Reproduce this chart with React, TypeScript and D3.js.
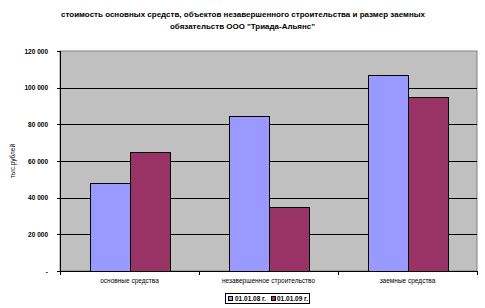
import React from "react";
import * as d3 from "d3";

const categories = ["основные средства", "незавершенное строительство", "заемные средства"];
const seriesNames = ["01.01.08 г.", "01.01.09 г."];
const values2008 = [48000, 84500, 107000];
const values2009 = [65000, 35000, 95000];
const yTicks = [0, 20000, 40000, 60000, 80000, 100000, 120000];
const titleLines = [
  "стоимость основных средств, объектов незавершенного строительства и размер заемных",
  "обязательств ООО \"Триада-Альянс\"",
];
const yAxisTitle = "тыс.рублей";
const colors = ["#9999FF", "#993366"];

const W = 485, H = 308;
const plot = { left: 60, right: 477, top: 51, bottom: 271 };
const FONT = "'Liberation Sans', Arial, sans-serif";

export default function App() {
  const x0 = d3.scaleBand<string>().domain(categories).range([plot.left, plot.right]).padding(0);
  const x1 = d3.scaleBand<string>().domain(seriesNames).range([0, x0.bandwidth()]).paddingInner(0).paddingOuter(0.75);
  const y = d3.scaleLinear().domain([0, 120000]).range([plot.bottom, plot.top]);
  const series = [values2008, values2009];
  const fmt = (v: number) => (v === 0 ? "-" : d3.format(",")(v).replace(/,/g, " "));
  const boundaries = [plot.left, ...categories.map((c) => (x0(c) as number) + x0.bandwidth())];

  return (
    <svg width={W} height={H} style={{ position: "absolute", left: 0, top: 0, background: "#fff" }}>
      <rect x={0} y={0} width={W} height={H} fill="#fff" />
      {/* title */}
      <text x={243} y={17} textAnchor="middle" fontFamily={FONT} fontSize={7} fontWeight="bold" textLength={364} lengthAdjust="spacingAndGlyphs">{titleLines[0]}</text>
      <text x={242.5} y={29} textAnchor="middle" fontFamily={FONT} fontSize={7} fontWeight="bold" textLength={145} lengthAdjust="spacingAndGlyphs">{titleLines[1]}</text>
      {/* plot area */}
      <rect x={plot.left} y={plot.top} width={plot.right - plot.left} height={plot.bottom - plot.top} fill="#C0C0C0" stroke="#808080" strokeWidth={1} />
      {/* gridlines */}
      {yTicks.filter((t) => t > 0 && t < 120000).map((t) => (
        <line key={t} x1={plot.left} x2={plot.right} y1={Math.round(y(t)) + 0.5} y2={Math.round(y(t)) + 0.5} stroke="#000" strokeWidth={1} />
      ))}
      {/* bars */}
      {categories.map((c, ci) =>
        seriesNames.map((s, si) => {
          const bx = (x0(c) as number) + (x1(s) as number);
          const by = y(series[si][ci]);
          return (
            <rect key={c + s} x={Math.round(bx) + 0.5} y={Math.round(by) + 0.5} width={Math.round(x1.bandwidth())} height={Math.round(plot.bottom - by)} fill={colors[si]} stroke="#000" strokeWidth={1} />
          );
        })
      )}
      {/* axes */}
      <line x1={plot.left + 0.5} x2={plot.left + 0.5} y1={plot.top} y2={plot.bottom} stroke="#000" />
      <line x1={plot.left} x2={plot.right} y1={plot.bottom + 0.5} y2={plot.bottom + 0.5} stroke="#000" />
      {yTicks.map((t) => (
        <g key={t}>
          <line x1={plot.left - 3} x2={plot.left} y1={Math.round(y(t)) + 0.5} y2={Math.round(y(t)) + 0.5} stroke="#000" />
          <text x={48} y={y(t) + 2.5} textAnchor="end" fontFamily={FONT} fontSize={6.5} fontWeight="bold">{fmt(t)}</text>
        </g>
      ))}
      {boundaries.map((b, i) => (
        <line key={i} x1={Math.round(b) + 0.5} x2={Math.round(b) + 0.5} y1={plot.bottom} y2={plot.bottom + 4} stroke="#000" />
      ))}
      {categories.map((c) => (
        <text key={c} x={(x0(c) as number) + x0.bandwidth() / 2} y={283} textAnchor="middle" fontFamily={FONT} fontSize={6.5}>{c}</text>
      ))}
      {/* y axis title */}
      <text transform={`translate(15,${161}) rotate(-90)`} textAnchor="middle" fontFamily={FONT} fontSize={6.5}>{yAxisTitle}</text>
      {/* legend */}
      <rect x={225.5} y={293.5} width={84} height={10} fill="#fff" stroke="#000" />
      {seriesNames.map((s, i) => (
        <g key={s}>
          <rect x={228.5 + i * 43} y={296.5} width={4} height={4} fill={colors[i]} stroke="#000" />
          <text x={235 + i * 42} y={301} fontFamily={FONT} fontSize={6.5} fontWeight="bold" textLength={31} lengthAdjust="spacingAndGlyphs">{s}</text>
        </g>
      ))}
    </svg>
  );
}
